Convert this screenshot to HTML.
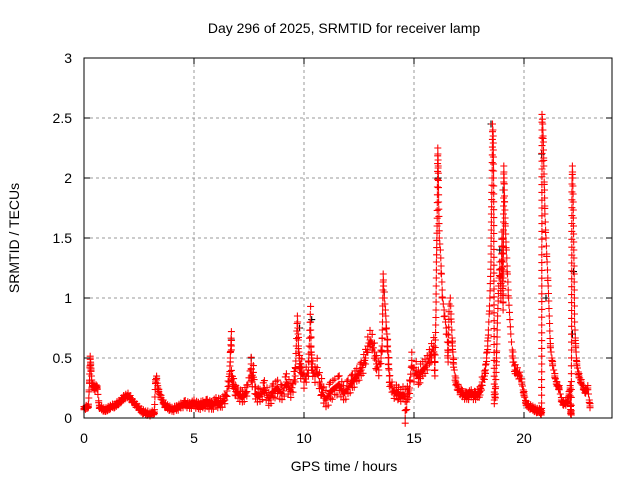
<!DOCTYPE html>
<html><head><meta charset="utf-8"><style>
body{margin:0;background:#fff}
svg text{font-family:"Liberation Sans",sans-serif;font-size:14px;fill:#000}
</style></head><body>
<svg id="chart" width="640" height="480" xmlns="http://www.w3.org/2000/svg">
<rect width="640" height="480" fill="#fff"/>
<g id="grid"></g>
<g id="black"></g>
<g id="red"></g>
<rect x="84" y="58" width="528" height="360" fill="none" stroke="#000" stroke-width="1"/>
<g id="axes"></g>
<text x="344" y="33" text-anchor="middle">Day 296 of 2025, SRMTID for receiver lamp</text>
<text x="344" y="471" text-anchor="middle">GPS time / hours</text>
<text transform="translate(19,238) rotate(-90)" text-anchor="middle">SRMTID / TECUs</text>
</svg>
<script>
const xTicks=[0,5,10,15,20];
const yTicks=[0,0.5,1,1.5,2,2.5,3];
const yTickLabels=["0","0.5","1","1.5","2","2.5","3"];
const redT=[0,0.1,0.2,0.25,0.28,0.3,0.32,0.35,0.4,0.45,0.5,0.55,0.6,0.7,0.8,0.9,1.0,1.1,1.2,1.3,1.4,1.5,1.6,1.7,1.8,1.9,2.0,2.1,2.2,2.3,2.4,2.5,2.6,2.7,2.8,2.9,3.0,3.1,3.2,3.25,3.3,3.35,3.4,3.5,3.6,3.7,3.8,3.9,4.0,4.2,4.4,4.6,4.8,5.0,5.2,5.4,5.6,5.8,6.0,6.2,6.4,6.6,6.65,6.7,6.7,6.7,6.75,6.8,6.9,7.0,7.2,7.4,7.6,7.6,7.65,7.7,7.8,8.0,8.2,8.4,8.6,8.8,9.0,9.2,9.4,9.6,9.7,9.72,9.75,9.8,9.85,9.9,10.0,10.1,10.2,10.3,10.3,10.32,10.35,10.4,10.5,10.6,10.7,10.8,10.9,11.0,11.2,11.4,11.6,11.8,12.0,12.2,12.4,12.6,12.8,12.9,13.0,13.1,13.2,13.3,13.4,13.5,13.55,13.6,13.62,13.65,13.7,13.75,13.8,13.85,13.9,14.0,14.1,14.2,14.3,14.4,14.5,14.6,14.6,14.7,14.8,14.9,15.0,15.1,15.2,15.3,15.4,15.5,15.6,15.7,15.8,15.9,15.95,16.0,16.02,16.05,16.08,16.1,16.12,16.15,16.2,16.25,16.3,16.4,16.5,16.55,16.6,16.65,16.7,16.75,16.8,16.9,17.0,17.2,17.4,17.6,17.8,17.9,18.0,18.1,18.2,18.25,18.3,18.35,18.4,18.45,18.5,18.52,18.55,18.57,18.6,18.62,18.65,18.7,18.75,18.8,18.85,18.9,18.95,19.0,19.02,19.05,19.08,19.1,19.12,19.15,19.2,19.25,19.3,19.4,19.5,19.6,19.7,19.8,19.9,20.0,20.1,20.2,20.3,20.4,20.5,20.6,20.7,20.75,20.78,20.8,20.82,20.85,20.88,20.9,20.93,20.95,21.0,21.05,21.1,21.15,21.2,21.3,21.4,21.5,21.6,21.7,21.8,21.9,22.0,22.05,22.1,22.12,22.15,22.18,22.2,22.22,22.25,22.28,22.3,22.35,22.4,22.5,22.6,22.7,22.8,22.9,23.0];
const redV=[0.08,0.09,0.1,0.3,0.5,0.45,0.4,0.3,0.27,0.25,0.24,0.26,0.25,0.09,0.08,0.07,0.07,0.08,0.09,0.1,0.1,0.12,0.13,0.15,0.17,0.18,0.19,0.17,0.14,0.12,0.1,0.08,0.06,0.05,0.04,0.04,0.03,0.04,0.05,0.3,0.33,0.25,0.22,0.17,0.13,0.1,0.09,0.08,0.07,0.08,0.1,0.12,0.1,0.12,0.1,0.11,0.12,0.1,0.13,0.12,0.15,0.3,0.5,0.72,0.6,0.35,0.3,0.28,0.22,0.2,0.17,0.22,0.45,0.35,0.3,0.38,0.2,0.18,0.25,0.15,0.22,0.25,0.2,0.3,0.22,0.35,0.85,0.75,0.6,0.45,0.38,0.42,0.3,0.35,0.4,0.93,0.8,0.6,0.45,0.4,0.35,0.42,0.3,0.25,0.18,0.15,0.22,0.25,0.28,0.2,0.25,0.3,0.35,0.4,0.5,0.6,0.65,0.62,0.55,0.45,0.4,0.5,0.6,1.2,1.1,1.0,0.9,0.75,0.6,0.45,0.3,0.25,0.2,0.22,0.2,0.18,0.2,0.18,0.0,0.2,0.25,0.48,0.35,0.4,0.33,0.38,0.4,0.42,0.45,0.5,0.55,0.6,0.4,0.9,1.3,1.6,2.25,2.1,1.8,1.5,1.4,1.2,1.0,0.85,0.7,0.5,0.95,1.0,0.8,0.6,0.45,0.3,0.25,0.2,0.18,0.2,0.18,0.2,0.22,0.3,0.35,0.4,0.5,0.6,0.8,1.0,1.3,1.7,2.0,2.45,2.35,2.0,0.15,0.2,0.5,0.85,1.1,1.3,1.0,1.55,1.2,0.9,2.1,1.95,1.8,1.6,1.4,1.2,1.0,0.7,0.5,0.4,0.38,0.35,0.3,0.2,0.12,0.1,0.09,0.08,0.07,0.06,0.06,0.05,0.04,0.06,2.53,2.45,2.3,2.1,1.9,1.7,1.5,1.3,1.1,0.85,0.6,0.45,0.35,0.28,0.25,0.15,0.12,0.12,0.15,0.2,0.25,0.05,0.04,1.95,2.1,2.0,1.6,1.2,0.8,0.6,0.45,0.35,0.3,0.25,0.22,0.25,0.1,0.06,0.05,0.03];
const noiseT=[0,4,5,7,8,9.5,11,12.5,13,14,15,16,17,18,19.5,20,23];
const noiseV=[0.015,0.02,0.03,0.05,0.06,0.07,0.08,0.06,0.08,0.05,0.07,0.07,0.03,0.04,0.05,0.02,0.02];
const blackT=[0.3,3.3,6.7,7.6,9.8,10.35,13.65,16.1,18.5,18.9,19.05,20.8,21.0,22.2,22.25];
const blackV=[0.45,0.33,0.65,0.5,0.75,0.82,1.05,2.0,2.45,1.4,1.9,2.2,1.0,0.7,1.22];
const X=t=>84+t*22, Y=v=>418-v*120;
const ns="http://www.w3.org/2000/svg";
function mk(tag,attrs,parent){const e=document.createElementNS(ns,tag);for(const k in attrs)e.setAttribute(k,attrs[k]);parent.appendChild(e);return e;}
const grid=document.getElementById('grid'),axes=document.getElementById('axes');
xTicks.forEach(t=>{
 if(t>0){const l=mk('line',{x1:X(t),x2:X(t),y1:58,y2:418,stroke:'#999','stroke-dasharray':'3,3'},grid);
 
 }
 const tk=mk('path',{d:`M${X(t)} 418v-6M${X(t)} 58v6`,stroke:'#000'},axes);
 
 
 const tx=mk('text',{x:X(t),y:443,'text-anchor':'middle'},axes);tx.textContent=t;
 
 
});
yTicks.forEach((v,i)=>{
 if(v>0&&v<3){const l=mk('line',{x1:84,x2:612,y1:Y(v),y2:Y(v),stroke:'#999','stroke-dasharray':'3,3'},grid);
 
 }
 const tk=mk('path',{d:`M84 ${Y(v)}h6M612 ${Y(v)}h-6`,stroke:'#000'},axes);
 
 
 const tx=mk('text',{x:72,y:Y(v)+5,'text-anchor':'end'},axes);tx.textContent=yTickLabels[i];
 
 
});
function noiseAt(t){for(let i=0;i<noiseT.length-1;i++){if(t>=noiseT[i]&&t<=noiseT[i+1]){const f=(t-noiseT[i])/(noiseT[i+1]-noiseT[i]);return noiseV[i]+f*(noiseV[i+1]-noiseV[i]);}}return 0.02;}
function plus(g,ts,vs,color,dense){
 let d='';
 const add=(x,y)=>{d+=`M${(x-3.5).toFixed(1)} ${y.toFixed(1)}h7M${x.toFixed(1)} ${(y-3.5).toFixed(1)}v7`;};
 for(let i=0;i<ts.length;i++){
  const x=X(ts[i]),y=Y(vs[i]);
  add(x,y);
  if(dense&&i+1<ts.length){const x2=X(ts[i+1]),y2=Y(vs[i+1]);
   const dist=Math.max(Math.abs(x2-x)/1.1,Math.abs(y2-y)/8);
   if(x2-x<6&&x2-x>0.05&&dist>1){const n=Math.ceil(dist);
    for(let k=1;k<n;k++){const f=k/n,xx=x+(x2-x)*f,yy=y+(y2-y)*f;add(xx,yy);
     if(Math.abs(y2-y)<25){const a=noiseAt(ts[i]+(ts[i+1]-ts[i])*f)*120*((k%3)-1);if(a)add(xx,yy+a);}}}}
  if(dense&&vs[i]<0.7){const a=noiseAt(ts[i])*120;add(x,y-a);add(x,y+a*0.7);}
 }
 const p=mk('path',{d:d,stroke:color,'stroke-width':1.1,fill:'none'},g);
 
 
}
plus(document.getElementById('black'),blackT,blackV,'#000',false);
plus(document.getElementById('red'),redT,redV,'#f00',true);
</script>
</body></html>
